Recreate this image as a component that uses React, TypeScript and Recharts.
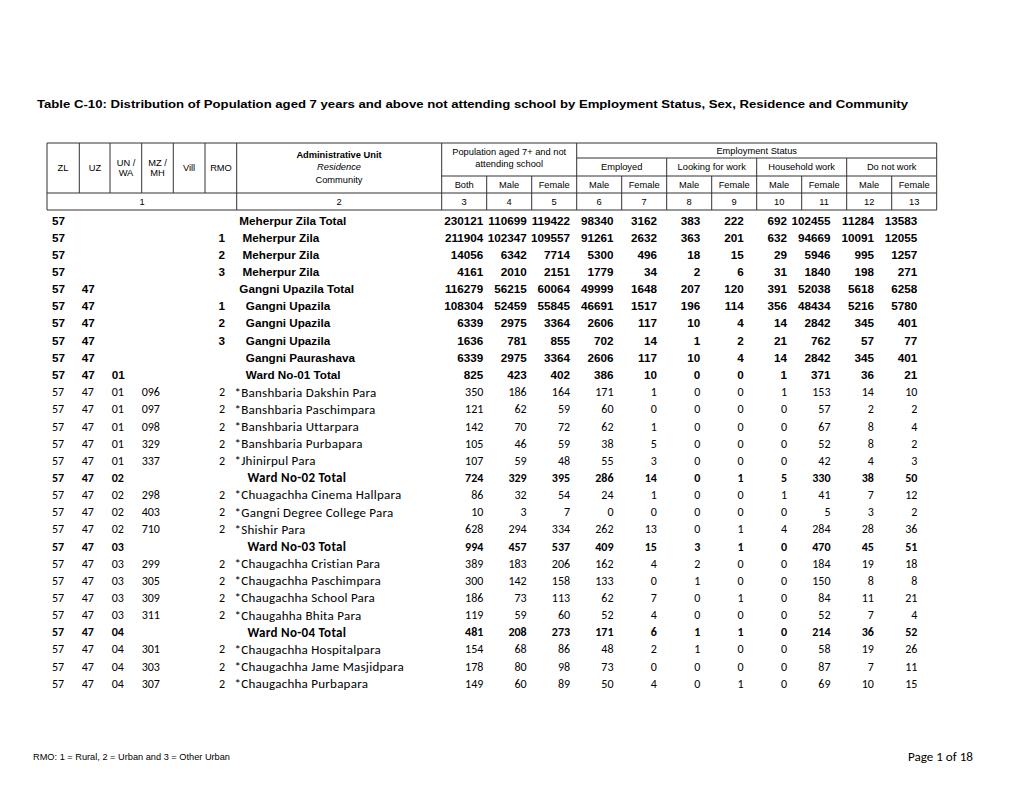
import { ScatterChart, Scatter, XAxis, YAxis, ReferenceLine } from 'recharts';

// ---- table data (one entry per row, top to bottom) ----
const ZL = ['57', '57', '57', '57', '57', '57', '57', '57', '57', '57', '57', '57', '57', '57', '57', '57', '57', '57', '57', '57', '57', '57', '57', '57', '57', '57', '57', '57'];
const UZ = ['', '', '', '', '47', '47', '47', '47', '47', '47', '47', '47', '47', '47', '47', '47', '47', '47', '47', '47', '47', '47', '47', '47', '47', '47', '47', '47'];
const UNWA = ['', '', '', '', '', '', '', '', '', '01', '01', '01', '01', '01', '01', '02', '02', '02', '02', '03', '03', '03', '03', '03', '04', '04', '04', '04'];
const MZMH = ['', '', '', '', '', '', '', '', '', '', '096', '097', '098', '329', '337', '', '298', '403', '710', '', '299', '305', '309', '311', '', '301', '303', '307'];
const RMO = ['', '1', '2', '3', '', '1', '2', '3', '', '', '2', '2', '2', '2', '2', '', '2', '2', '2', '', '2', '2', '2', '2', '', '2', '2', '2'];
const UNIT = [
  'Meherpur Zila Total', ' Meherpur Zila', ' Meherpur Zila', ' Meherpur Zila',
  'Gangni Upazila Total', '  Gangni Upazila', '  Gangni Upazila', '  Gangni Upazila',
  '  Gangni Paurashava', '  Ward No-01 Total',
  '*Banshbaria Dakshin Para', '*Banshbaria Paschimpara', '*Banshbaria Uttarpara', '*Banshbaria Purbapara', '*Jhinirpul Para',
  '    Ward No-02 Total', '*Chuagachha Cinema Hallpara', '*Gangni Degree College Para', '*Shishir Para',
  '    Ward No-03 Total', '*Chaugachha Cristian Para', '*Chaugachha Paschimpara', '*Chaugachha School Para', '*Chaugahha Bhita Para',
  '    Ward No-04 Total', '*Chaugachha Hospitalpara', '*Chaugachha Jame Masjidpara', '*Chaugachha Purbapara',
];
// head = upper level totals, sub = ward totals, item = mauza rows
const KIND = ['head', 'head', 'head', 'head', 'head', 'head', 'head', 'head', 'head', 'head', 'item', 'item', 'item', 'item', 'item', 'sub', 'item', 'item', 'item', 'sub', 'item', 'item', 'item', 'item', 'sub', 'item', 'item', 'item'];

const BOTH = [230121, 211904, 14056, 4161, 116279, 108304, 6339, 1636, 6339, 825, 350, 121, 142, 105, 107, 724, 86, 10, 628, 994, 389, 300, 186, 119, 481, 154, 178, 149];
const MALE = [110699, 102347, 6342, 2010, 56215, 52459, 2975, 781, 2975, 423, 186, 62, 70, 46, 59, 329, 32, 3, 294, 457, 183, 142, 73, 59, 208, 68, 80, 60];
const FEMALE = [119422, 109557, 7714, 2151, 60064, 55845, 3364, 855, 3364, 402, 164, 59, 72, 59, 48, 395, 54, 7, 334, 537, 206, 158, 113, 60, 273, 86, 98, 89];
const EMP_M = [98340, 91261, 5300, 1779, 49999, 46691, 2606, 702, 2606, 386, 171, 60, 62, 38, 55, 286, 24, 0, 262, 409, 162, 133, 62, 52, 171, 48, 73, 50];
const EMP_F = [3162, 2632, 496, 34, 1648, 1517, 117, 14, 117, 10, 1, 0, 1, 5, 3, 14, 1, 0, 13, 15, 4, 0, 7, 4, 6, 2, 0, 4];
const LOOK_M = [383, 363, 18, 2, 207, 196, 10, 1, 10, 0, 0, 0, 0, 0, 0, 0, 0, 0, 0, 3, 2, 1, 0, 0, 1, 1, 0, 0];
const LOOK_F = [222, 201, 15, 6, 120, 114, 4, 2, 4, 0, 0, 0, 0, 0, 0, 1, 0, 0, 1, 1, 0, 0, 1, 0, 1, 0, 0, 1];
const HH_M = [692, 632, 29, 31, 391, 356, 14, 21, 14, 1, 1, 0, 0, 0, 0, 5, 1, 0, 4, 0, 0, 0, 0, 0, 0, 0, 0, 0];
const HH_F = [102455, 94669, 5946, 1840, 52038, 48434, 2842, 762, 2842, 371, 153, 57, 67, 52, 42, 330, 41, 5, 284, 470, 184, 150, 84, 52, 214, 58, 87, 69];
const NW_M = [11284, 10091, 995, 198, 5618, 5216, 345, 57, 345, 36, 14, 2, 8, 8, 4, 38, 7, 3, 28, 45, 19, 8, 11, 7, 36, 19, 7, 10];
const NW_F = [13583, 12055, 1257, 271, 6258, 5780, 401, 77, 401, 21, 10, 2, 4, 2, 3, 50, 12, 2, 36, 51, 18, 8, 21, 4, 52, 26, 11, 15];

const NUM_COLS = [BOTH, MALE, FEMALE, EMP_M, EMP_F, LOOK_M, LOOK_F, HH_M, HH_F, NW_M, NW_F];

const TITLE = 'Table C-10: Distribution of Population aged 7 years and above not attending school by Employment Status, Sex, Residence and Community';
const SEX_LABELS = ['Both', 'Male', 'Female', 'Male', 'Female', 'Male', 'Female', 'Male', 'Female', 'Male', 'Female'];
const STATUS_LABELS = ['Employed', 'Looking for work', 'Household work', 'Do not work'];
const COL_NUMBERS = ['3', '4', '5', '6', '7', '8', '9', '10', '11', '12', '13'];
const FOOTNOTE = 'RMO: 1 = Rural, 2 = Urban and 3 = Other Urban';
const PAGE = 'Page 1 of 18';

// ---- layout ----
const W = 1020;
const H = 788;
const ROW0 = 220.5; // px centre of first body row
const ROW_H = 17.15;
const py = (px: number) => (px - ROW0) / ROW_H;

const HEAD_X = [47, 79.3, 110, 141.7, 173.3, 205, 236.7];
const ADMIN_R = 441.7;
const DATA_W = 45;
const T_TOP = 143, T_STATUS = 158, T_GROUP = 176, T_SEX = 193, T_BOT = 210;
const NUM_RIGHT = 483.3;
const NUM_STEP = 43.4;

const SANS = "'Liberation Sans', Arial, sans-serif";
const CALIBRI = 'Carlito, Lato, sans-serif';

const FONTS: Record<string, { family: string; size: number; weight: number; style?: string; spacing?: number }> = {
  head: { family: SANS, size: 11.7, weight: 700 },
  sub: { family: CALIBRI, size: 12, weight: 700 },
  item: { family: CALIBRI, size: 12, weight: 400 },
  subName: { family: CALIBRI, size: 13, weight: 700, spacing: 0.3 },
  itemName: { family: CALIBRI, size: 13, weight: 400, spacing: 0.25 },
  hdr: { family: SANS, size: 9.3, weight: 400 },
  hdrB: { family: SANS, size: 9.3, weight: 700 },
  hdrI: { family: SANS, size: 9.3, weight: 400, style: 'italic' },
  title: { family: SANS, size: 11.6, weight: 700 },
  foot: { family: "'Liberation Sans Narrow', 'Liberation Sans', Arial, sans-serif", size: 8.2, weight: 400 },
  page: { family: CALIBRI, size: 12, weight: 400 },
};

interface Cell {
  x: number;
  y: number;
  text: string;
  anchor: 'start' | 'middle' | 'end';
  font: string;
  len?: number;
}

const bodyCells: Cell[] = [];
ZL.forEach((_, i) => {
  const kind = KIND[i];
  const push = (x: number, text: string, anchor: Cell['anchor'], font = kind) => {
    if (text !== '') bodyCells.push({ x, y: i, text, anchor, font });
  };
  push(52, ZL[i], 'start');
  push(81.7, UZ[i], 'start');
  push(111.7, UNWA[i], 'start');
  push(141.7, MZMH[i], 'start');
  push(225, RMO[i], 'end');
  push(kind === 'head' ? 239.3 : 234.5, UNIT[i], 'start', kind === 'head' ? 'head' : kind + 'Name');
  NUM_COLS.forEach((col, k) => push(NUM_RIGHT + k * NUM_STEP, String(col[i]), 'end'));
});

const dataX = (k: number) => ADMIN_R + k * DATA_W;
const headCells: Cell[] = [
  { x: 37, y: py(104), text: TITLE, anchor: 'start', font: 'title', len: 871 },
  { x: 63, y: py(168), text: 'ZL', anchor: 'middle', font: 'hdr' },
  { x: 95, y: py(168), text: 'UZ', anchor: 'middle', font: 'hdr' },
  { x: 126, y: py(162.5), text: 'UN /', anchor: 'middle', font: 'hdr' },
  { x: 126, y: py(173), text: 'WA', anchor: 'middle', font: 'hdr' },
  { x: 157.5, y: py(162.5), text: 'MZ /', anchor: 'middle', font: 'hdr' },
  { x: 157.5, y: py(173), text: 'MH', anchor: 'middle', font: 'hdr' },
  { x: 189, y: py(168), text: 'Vill', anchor: 'middle', font: 'hdr' },
  { x: 221, y: py(168), text: 'RMO', anchor: 'middle', font: 'hdr' },
  { x: 339, y: py(155), text: 'Administrative Unit', anchor: 'middle', font: 'hdrB' },
  { x: 339, y: py(167), text: 'Residence', anchor: 'middle', font: 'hdrI' },
  { x: 339, y: py(179.5), text: 'Community', anchor: 'middle', font: 'hdr' },
  { x: dataX(1.5), y: py(152), text: 'Population aged 7+ and not', anchor: 'middle', font: 'hdr' },
  { x: dataX(1.5), y: py(164), text: 'attending school', anchor: 'middle', font: 'hdr' },
  { x: dataX(7), y: py(150.5), text: 'Employment Status', anchor: 'middle', font: 'hdr' },
  ...STATUS_LABELS.map((t, k) => ({ x: dataX(4 + 2 * k), y: py(167), text: t, anchor: 'middle' as const, font: 'hdr' })),
  ...SEX_LABELS.map((t, k) => ({ x: dataX(k + 0.5), y: py(184.5), text: t, anchor: 'middle' as const, font: 'hdr' })),
  { x: 142, y: py(201.5), text: '1', anchor: 'middle', font: 'hdr' },
  { x: 339, y: py(201.5), text: '2', anchor: 'middle', font: 'hdr' },
  ...COL_NUMBERS.map((t, k) => ({ x: dataX(k + 0.5), y: py(201.5), text: t, anchor: 'middle' as const, font: 'hdr' })),
  { x: 33, y: py(757), text: FOOTNOTE, anchor: 'start', font: 'foot', len: 197 },
  { x: 908, y: py(757), text: PAGE, anchor: 'start', font: 'page', len: 65 },
];

// header grid segments [x1, y1, x2, y2] in px
const right = dataX(11);
const SEGS: number[][] = [
  [HEAD_X[0], T_TOP, right, T_TOP],
  [dataX(3), T_STATUS, right, T_STATUS],
  [ADMIN_R, T_GROUP, right, T_GROUP],
  [HEAD_X[0], T_SEX, right, T_SEX],
  [HEAD_X[0], T_BOT, right, T_BOT],
  [HEAD_X[0], T_TOP, HEAD_X[0], T_BOT],
  ...HEAD_X.slice(1, 6).map((x) => [x, T_TOP, x, T_SEX]),
  [HEAD_X[6], T_TOP, HEAD_X[6], T_BOT],
  [ADMIN_R, T_TOP, ADMIN_R, T_BOT],
  [dataX(1), T_GROUP, dataX(1), T_BOT],
  [dataX(2), T_GROUP, dataX(2), T_BOT],
  [dataX(3), T_TOP, dataX(3), T_BOT],
  [dataX(4), T_GROUP, dataX(4), T_BOT],
  [dataX(5), T_STATUS, dataX(5), T_BOT],
  [dataX(6), T_GROUP, dataX(6), T_BOT],
  [dataX(7), T_STATUS, dataX(7), T_BOT],
  [dataX(8), T_GROUP, dataX(8), T_BOT],
  [dataX(9), T_STATUS, dataX(9), T_BOT],
  [dataX(10), T_GROUP, dataX(10), T_BOT],
  [right, T_TOP, right, T_BOT],
];

function CellText(props: any) {
  const { cx, cy, payload } = props;
  if (cx == null || cy == null || !payload) return null;
  const f = FONTS[payload.font];
  return (
    <text
      x={cx}
      y={cy}
      dy={f.size * 0.35}
      textAnchor={payload.anchor}
      fontFamily={f.family}
      fontSize={f.size}
      fontWeight={f.weight}
      fontStyle={f.style ?? 'normal'}
      letterSpacing={f.spacing ?? 0}
      fill="#000"
      style={{ whiteSpace: 'pre' }}
      textLength={payload.len}
      lengthAdjust={payload.len ? 'spacingAndGlyphs' : undefined}
    >
      {payload.text}
    </text>
  );
}

export default function App() {
  return (
    <div style={{ position: 'absolute', left: 0, top: 0, width: W, height: H, background: '#fff' }}>
      <ScatterChart width={W} height={H} margin={{ top: 0, right: 0, bottom: 0, left: 0 }}>
        <XAxis type="number" dataKey="x" domain={[0, W]} allowDataOverflow hide />
        <YAxis type="number" dataKey="y" domain={[py(0), py(H)]} allowDataOverflow reversed hide />
        {SEGS.map(([x1, y1, x2, y2], i) => (
          <ReferenceLine
            key={i}
            segment={[{ x: x1, y: py(y1) }, { x: x2, y: py(y2) }]}
            stroke="#333"
            strokeWidth={1}
            ifOverflow="visible"
          />
        ))}
        <Scatter data={headCells} shape={CellText} isAnimationActive={false} />
        <Scatter data={bodyCells} shape={CellText} isAnimationActive={false} />
      </ScatterChart>
    </div>
  );
}
